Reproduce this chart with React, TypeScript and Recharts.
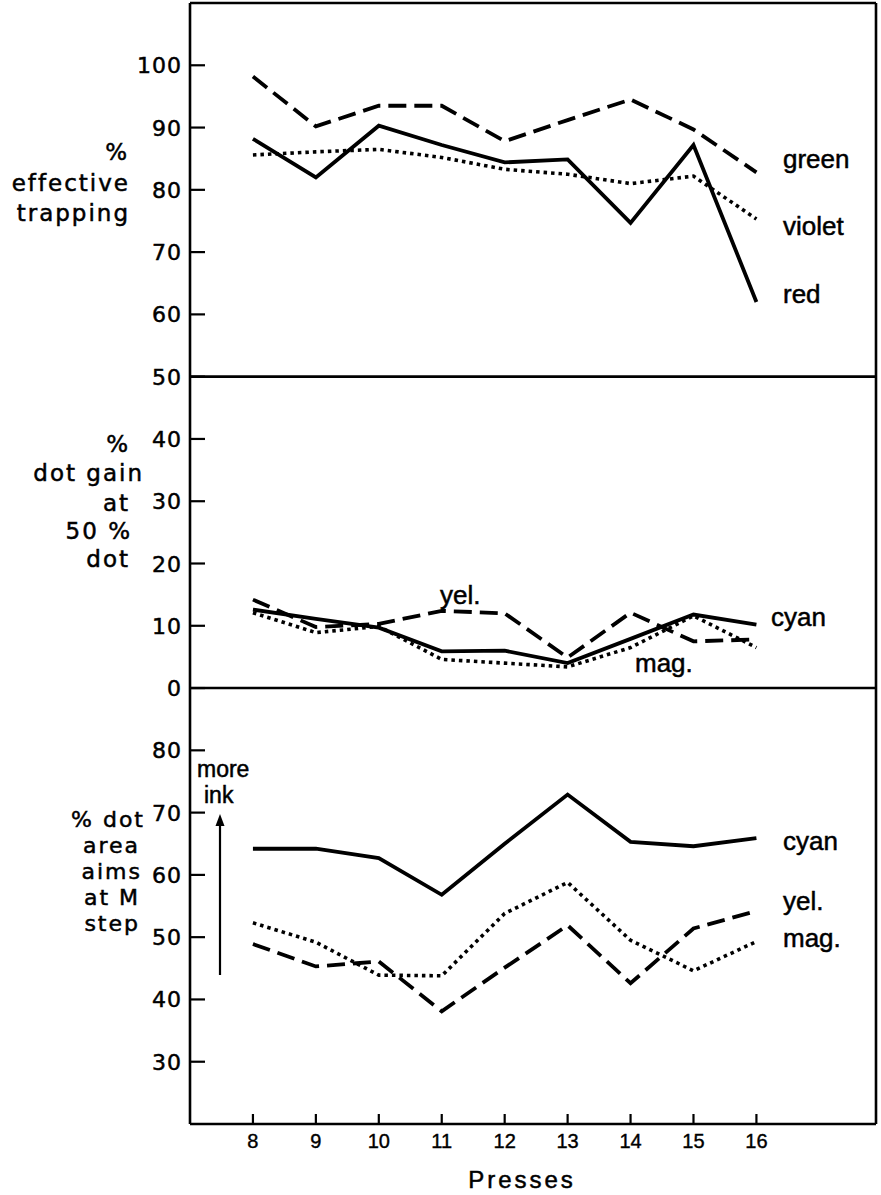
import React from 'react';
import { LineChart, Line, XAxis, YAxis, ReferenceLine } from 'recharts';

// ---------- data ----------
const presses = [8, 9, 10, 11, 12, 13, 14, 15, 16];

// top panel: % effective trapping
const green = [98.2, 90.2, 93.5, 93.5, 87.8, 91.2, 94.5, 89.7, 82.8];
const red = [88.2, 82.0, 90.3, 87.2, 84.4, 84.9, 74.7, 87.2, 62.0];
const violet = [85.6, 86.1, 86.5, 85.2, 83.3, 82.5, 81.0, 82.2, 75.3];

// middle panel: % dot gain at 50 % dot
const cyanGain = [12.6, 11.1, 9.7, 5.9, 6.0, 4.0, 7.9, 11.8, 10.2];
const yelGain = [14.2, 9.8, 10.3, 12.4, 12.0, 4.9, 12.1, 7.5, 7.8];
const magGain = [12.1, 8.9, 9.9, 4.6, 4.0, 3.4, 6.5, 11.6, 6.5];

// bottom panel: % dot area aims at M step
const cyanAim = [64.2, 64.2, 62.7, 56.8, 65.0, 72.9, 65.3, 64.6, 65.9];
const yelAim = [48.9, 45.3, 46.1, 38.1, 45.1, 51.9, 42.6, 51.4, 54.2];
const magAim = [52.3, 49.2, 43.9, 43.8, 53.8, 58.8, 49.5, 44.6, 49.3];

// tick labels
const upperTicks = [0, 10, 20, 30, 40, 50, 60, 70, 80, 90, 100];
const lowerTicks = [30, 40, 50, 60, 70, 80];

const rows = presses.map((p, i) => ({
  press: p,
  green: green[i],
  red: red[i],
  violet: violet[i],
  cyanGain: cyanGain[i],
  yelGain: yelGain[i],
  magGain: magGain[i],
  cyanAim: cyanAim[i],
  yelAim: yelAim[i],
  magAim: magAim[i],
}));

// ---------- layout ----------
const W = 881;
const H = 1195;
const PLOT_LEFT = 190;
const PLOT_RIGHT = 876;
const PLOT_TOP = 3;
const PLOT_BOTTOM = 1124;

const AXIS_FONT = 'DejaVu Sans';
const LABEL_FONT = 'Liberation Sans';

const SOLID = { stroke: '#000', strokeWidth: 3.8 };
const DASHED = { stroke: '#000', strokeWidth: 3.8, strokeDasharray: '18 8' };
const DOTTED = { stroke: '#000', strokeWidth: 3.6, strokeDasharray: '3.5 4' };

const YTick = (props: any) => {
  const { y, payload } = props;
  return (
    <g>
      <line x1={PLOT_LEFT} x2={PLOT_LEFT + 15} y1={y} y2={y} stroke="#000" strokeWidth={2.2} />
      <text
        x={PLOT_LEFT - 8}
        y={y + 8}
        textAnchor="end"
        fontFamily={AXIS_FONT}
        fontSize={22}
        letterSpacing={1}
        fill="#000"
        stroke="#000"
        strokeWidth={0.5}
      >
        {payload.value}
      </text>
    </g>
  );
};

const XTick = (props: any) => {
  const { x, payload } = props;
  return (
    <g>
      <line x1={x} x2={x} y1={PLOT_BOTTOM} y2={PLOT_BOTTOM - 10} stroke="#000" strokeWidth={2.2} />
      <text
        x={x}
        y={PLOT_BOTTOM + 24}
        textAnchor="middle"
        fontFamily={LABEL_FONT}
        fontSize={20}
        fill="#000"
        stroke="#000"
        strokeWidth={0.4}
      >
        {payload.value}
      </text>
    </g>
  );
};

const T = (p: { x: number; y: number; a?: 'start' | 'end' | 'middle'; s?: number; f?: string; ls?: number; children: React.ReactNode }) => (
  <text
    x={p.x}
    y={p.y}
    textAnchor={p.a || 'start'}
    fontSize={p.s || 26}
    fontFamily={p.f || LABEL_FONT}
    letterSpacing={p.ls || 0}
    fill="#000"
    stroke="#000"
    strokeWidth={0.5}
  >
    {p.children}
  </text>
);

export default function App() {
  const border = { stroke: '#000', strokeWidth: 2.6 };
  return (
    <div style={{ position: 'absolute', left: 0, top: 0, width: W, height: H, background: '#fff' }}>
      <LineChart
        width={W}
        height={H}
        data={rows}
        margin={{ top: PLOT_TOP, right: W - PLOT_RIGHT, bottom: 0, left: 0 }}
      >
        <XAxis
          dataKey="press"
          type="number"
          domain={[7, 17.9]}
          ticks={presses}
          height={H - PLOT_BOTTOM}
          axisLine={border}
          tickLine={false}
          tick={<XTick />}
          interval={0}
        />
        <YAxis
          yAxisId="a"
          type="number"
          domain={[-70, 110]}
          ticks={upperTicks}
          width={PLOT_LEFT - 1}
          axisLine={false}
          tickLine={false}
          tick={<YTick />}
          interval={0}
        />
        <YAxis
          yAxisId="b"
          type="number"
          domain={[20, 200]}
          ticks={lowerTicks}
          width={1}
          axisLine={false}
          tickLine={false}
          tick={<YTick />}
          interval={0}
        />
        <ReferenceLine yAxisId="a" y={110} {...border} />
        <ReferenceLine yAxisId="a" y={50} {...border} />
        <ReferenceLine yAxisId="a" y={0} {...border} />
        <ReferenceLine yAxisId="a" x={7} {...border} />
        <ReferenceLine yAxisId="a" x={17.9} {...border} />

        <Line yAxisId="a" dataKey="green" {...DASHED} dot={false} isAnimationActive={false} />
        <Line yAxisId="a" dataKey="violet" {...DOTTED} dot={false} isAnimationActive={false} />
        <Line yAxisId="a" dataKey="red" {...SOLID} dot={false} isAnimationActive={false} />

        <Line yAxisId="a" dataKey="yelGain" {...DASHED} dot={false} isAnimationActive={false} />
        <Line yAxisId="a" dataKey="magGain" {...DOTTED} dot={false} isAnimationActive={false} />
        <Line yAxisId="a" dataKey="cyanGain" {...SOLID} dot={false} isAnimationActive={false} />

        <Line yAxisId="b" dataKey="yelAim" {...DASHED} dot={false} isAnimationActive={false} />
        <Line yAxisId="b" dataKey="magAim" {...DOTTED} dot={false} isAnimationActive={false} />
        <Line yAxisId="b" dataKey="cyanAim" {...SOLID} dot={false} isAnimationActive={false} />
      </LineChart>

      <svg
        width={W}
        height={H}
        style={{ position: 'absolute', left: 0, top: 0, pointerEvents: 'none' }}
      >
        {/* left axis titles */}
        <T x={129} y={160} a="end" s={23} f={AXIS_FONT} ls={2}>%</T>
        <T x={130} y={191} a="end" s={23} f={AXIS_FONT} ls={2}>effective</T>
        <T x={130} y={221} a="end" s={23} f={AXIS_FONT} ls={2}>trapping</T>

        <T x={130} y={452} a="end" s={23} f={AXIS_FONT} ls={2}>%</T>
        <T x={144} y={481} a="end" s={23} f={AXIS_FONT} ls={2}>dot gain</T>
        <T x={130} y={511} a="end" s={23} f={AXIS_FONT} ls={2}>at</T>
        <T x={132} y={539} a="end" s={23} f={AXIS_FONT} ls={2}>50 %</T>
        <T x={130} y={567} a="end" s={23} f={AXIS_FONT} ls={2}>dot</T>

        <T x={145} y={827} a="end" s={22} f={AXIS_FONT} ls={2}>% dot</T>
        <T x={140} y={853} a="end" s={22} f={AXIS_FONT} ls={2}>area</T>
        <T x={142} y={879} a="end" s={22} f={AXIS_FONT} ls={2}>aims</T>
        <T x={140} y={905} a="end" s={22} f={AXIS_FONT} ls={2}>at M</T>
        <T x={140} y={931} a="end" s={22} f={AXIS_FONT} ls={2}>step</T>

        {/* series labels */}
        <T x={783} y={168}>green</T>
        <T x={783} y={235}>violet</T>
        <T x={783} y={303}>red</T>

        <T x={440} y={604}>yel.</T>
        <T x={771} y={626}>cyan</T>
        <T x={635} y={672}>mag.</T>

        <T x={783} y={850}>cyan</T>
        <T x={783} y={910}>yel.</T>
        <T x={783} y={947}>mag.</T>

        {/* more ink arrow */}
        <T x={197} y={777} s={23}>more</T>
        <T x={204} y={803} s={23}>ink</T>
        <line x1={220} x2={220} y1={975} y2={824} stroke="#000" strokeWidth={2.2} />
        <polygon points="220,814 215.5,826 224.5,826" fill="#000" />

        {/* x axis title */}
        <T x={522} y={1188} a="middle" s={24} ls={3}>Presses</T>
      </svg>
    </div>
  );
}
